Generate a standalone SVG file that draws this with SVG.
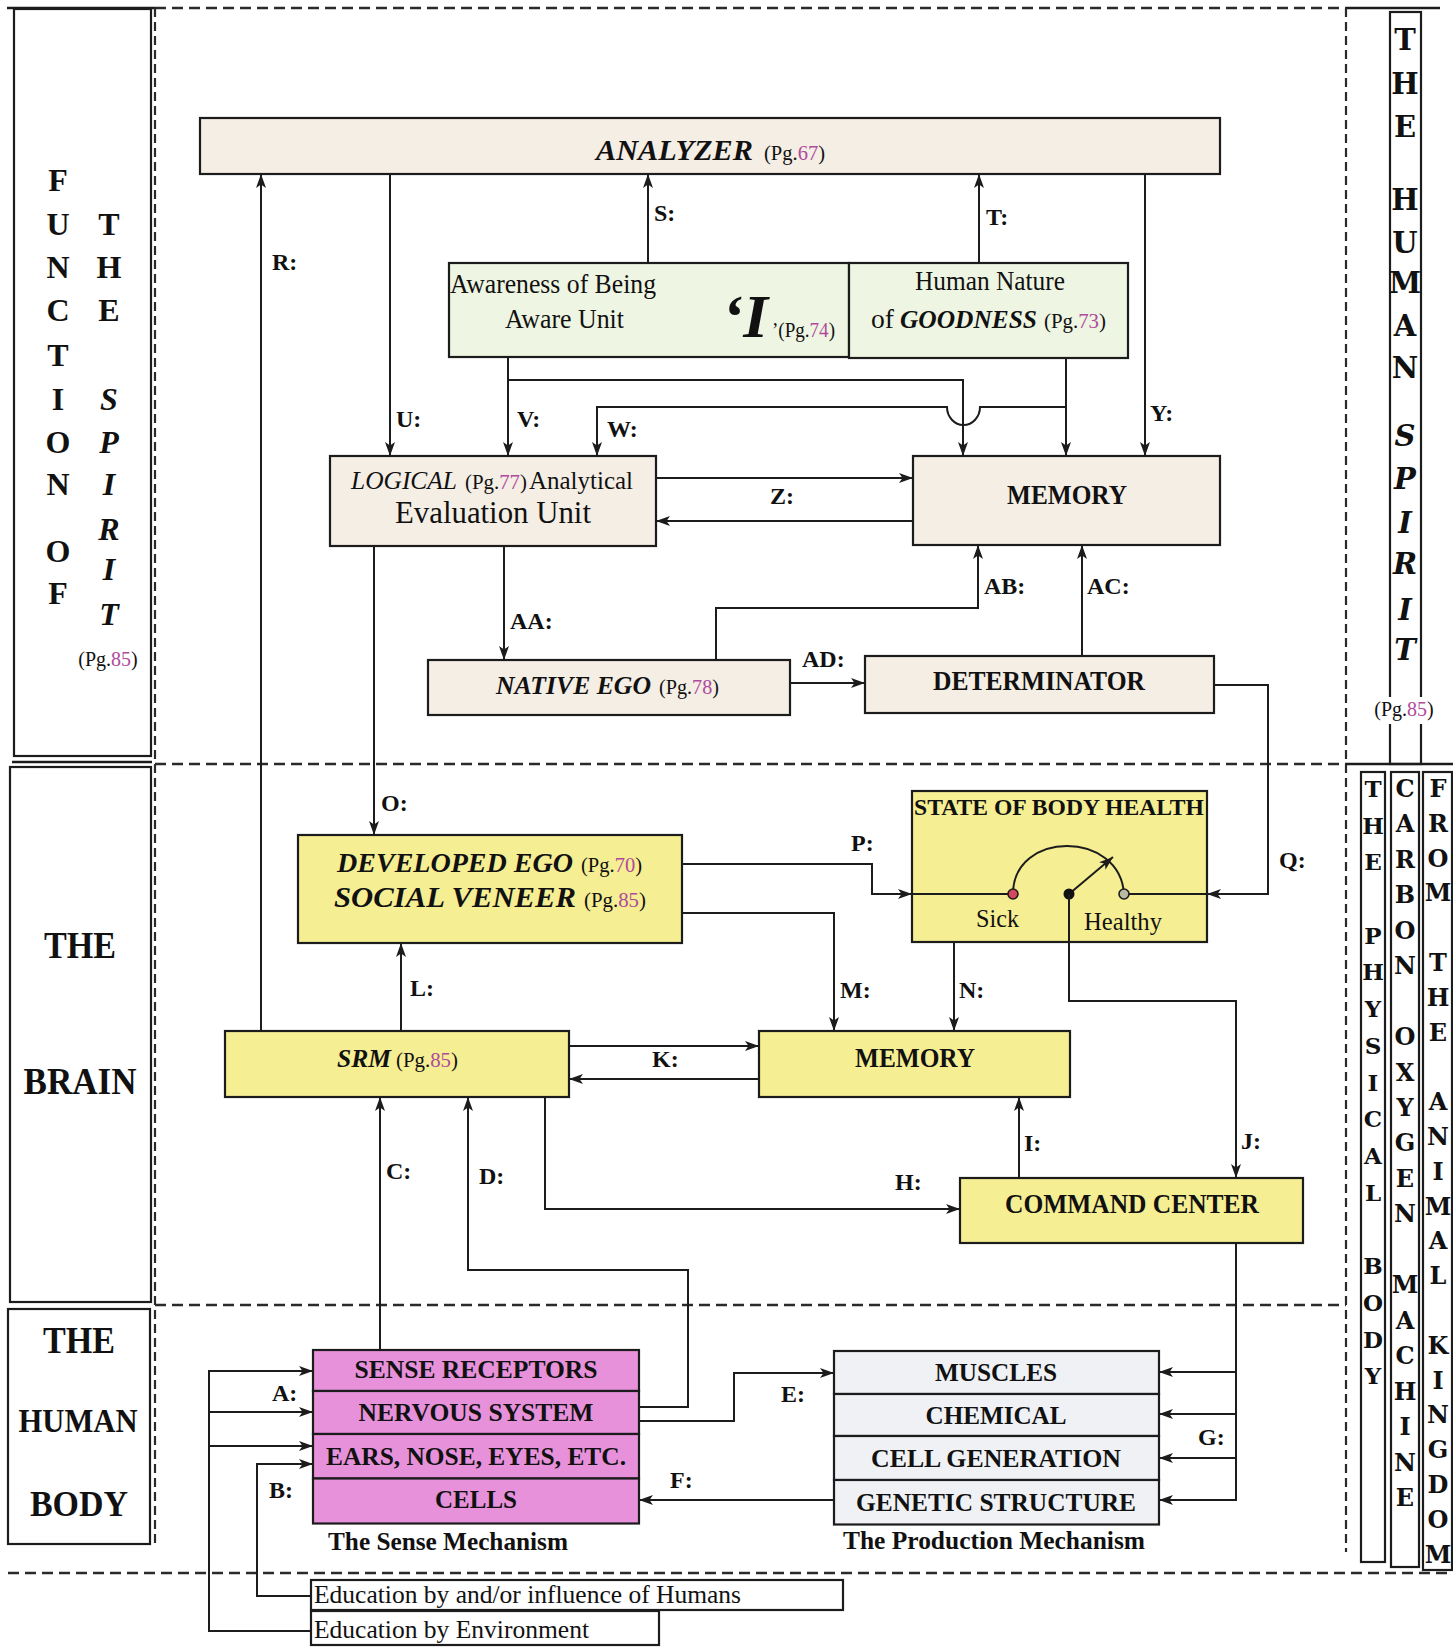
<svg xmlns="http://www.w3.org/2000/svg" width="1453" height="1647" viewBox="0 0 1453 1647">
<defs>
<style>
.bx{stroke:#1c1c1c;stroke-width:2.2}
.beige{fill:#f4eee5}
.green{fill:#eef5e2}
.yel{fill:#f6ee93}
.pink{fill:#e691da}
.grey{fill:#eff1f5}
.wh{fill:#ffffff}
.ln{fill:none;stroke:#1c1c1c;stroke-width:2}
.ar{marker-end:url(#ah)}
.dash{fill:none;stroke:#2a2a2a;stroke-width:2.4;stroke-dasharray:11 6}
.dashv{fill:none;stroke:#2a2a2a;stroke-width:2.2;stroke-dasharray:9 5}
.sol{fill:none;stroke:#1c1c1c;stroke-width:2.4}
.t{font-family:"Liberation Serif","Times New Roman",serif;fill:#111}
.b{font-weight:bold}
.i{font-style:italic}
.lbl{font-family:"Liberation Serif","Times New Roman",serif;font-weight:bold;font-size:24px;fill:#111}
.pg{fill:#b04a9c}
.wide{font-family:"DejaVu Serif",serif;font-weight:bold;fill:#111;text-anchor:middle}
.col{font-family:"Liberation Serif","Times New Roman",serif;font-weight:bold;font-size:32px;fill:#111;text-anchor:middle}
</style>
<marker id="ah" viewBox="0 0 14 10" refX="14" refY="5" markerWidth="14" markerHeight="10" markerUnits="userSpaceOnUse" orient="auto">
<path d="M0,0 L14,5 L0,10 L3.5,5 z" fill="#1c1c1c"/>
</marker>
</defs>
<rect x="0" y="0" width="1453" height="1647" fill="#ffffff"/>

<g id="regions">
<line class="sol" x1="7" y1="8" x2="155" y2="8"/>
<line class="dash" x1="155" y1="8" x2="1346" y2="8"/>
<line class="sol" x1="1346" y1="8" x2="1440" y2="8"/>
<line class="dashv" x1="155" y1="8" x2="155" y2="1546"/>
<line class="dashv" x1="1346" y1="8" x2="1346" y2="1552"/>
<line class="dash" x1="155" y1="764" x2="1346" y2="764"/>
<line class="sol" x1="1346" y1="764" x2="1453" y2="764"/>
<line class="dash" x1="155" y1="1305" x2="1346" y2="1305"/>
<line class="dash" x1="8" y1="1573" x2="1453" y2="1573"/>
<rect class="bx" x="14" y="9" width="137" height="747" fill="none"/>
<line class="sol" x1="12" y1="762" x2="152" y2="762"/>
<rect class="bx" x="10" y="767" width="141" height="535" fill="none"/>
<rect class="bx" x="8" y="1309" width="142" height="235" fill="none"/>
</g>

<g id="panel-spirit">
<text class="col" x="58" y="191">F</text>
<text class="col" x="58" y="235">U</text>
<text class="col" x="58" y="278">N</text>
<text class="col" x="58" y="321">C</text>
<text class="col" x="58" y="366">T</text>
<text class="col" x="58" y="410">I</text>
<text class="col" x="58" y="453">O</text>
<text class="col" x="58" y="495">N</text>
<text class="col" x="58" y="562">O</text>
<text class="col" x="58" y="604">F</text>
<text class="col" x="109" y="235">T</text>
<text class="col" x="109" y="278">H</text>
<text class="col" x="109" y="321">E</text>
<text class="col i" x="109" y="410">S</text>
<text class="col i" x="109" y="453">P</text>
<text class="col i" x="109" y="495">I</text>
<text class="col i" x="109" y="540">R</text>
<text class="col i" x="109" y="580">I</text>
<text class="col i" x="109" y="625">T</text>
<text class="t" x="108" y="666" font-size="20" text-anchor="middle">(Pg.<tspan class="pg">85</tspan>)</text>
</g>

<g id="panel-brain">
<text class="t b" x="80" y="958" font-size="37" text-anchor="middle" textLength="72" lengthAdjust="spacingAndGlyphs">THE</text>
<text class="t b" x="80" y="1094" font-size="37" text-anchor="middle" textLength="113" lengthAdjust="spacingAndGlyphs">BRAIN</text>
</g>

<g id="panel-body">
<text class="t b" x="79" y="1353" font-size="37" text-anchor="middle" textLength="72" lengthAdjust="spacingAndGlyphs">THE</text>
<text class="t b" x="78" y="1432" font-size="34" text-anchor="middle" textLength="119" lengthAdjust="spacingAndGlyphs">HUMAN</text>
<text class="t b" x="79" y="1516" font-size="36" text-anchor="middle" textLength="98" lengthAdjust="spacingAndGlyphs">BODY</text>
</g>

<g id="panel-human-spirit">
<rect class="bx" x="1390" y="12" width="31" height="752" fill="none"/>
<rect x="1370" y="697" width="68" height="27" fill="#ffffff"/>
<text class="wide" x="1405" y="50" font-size="29">T</text>
<text class="wide" x="1405" y="94" font-size="29">H</text>
<text class="wide" x="1405" y="137" font-size="29">E</text>
<text class="wide" x="1405" y="210" font-size="29">H</text>
<text class="wide" x="1405" y="253" font-size="29">U</text>
<text class="wide" x="1405" y="293" font-size="29">M</text>
<text class="wide" x="1405" y="336" font-size="29">A</text>
<text class="wide" x="1405" y="378" font-size="29">N</text>
<text class="wide i" x="1405" y="446" font-size="29">S</text>
<text class="wide i" x="1405" y="489" font-size="29">P</text>
<text class="wide i" x="1405" y="533" font-size="29">I</text>
<text class="wide i" x="1405" y="574" font-size="29">R</text>
<text class="wide i" x="1405" y="620" font-size="29">I</text>
<text class="wide i" x="1405" y="660" font-size="29">T</text>
<text class="t" x="1404" y="716" font-size="20" text-anchor="middle">(Pg.<tspan class="pg">85</tspan>)</text>
</g>

<g id="panel-physical-body">
<rect class="bx" x="1361" y="772" width="24" height="790" fill="none"/>
<text class="wide" x="1373" y="797" font-size="23">T</text>
<text class="wide" x="1373" y="834" font-size="23">H</text>
<text class="wide" x="1373" y="870" font-size="23">E</text>
<text class="wide" x="1373" y="944" font-size="23">P</text>
<text class="wide" x="1373" y="980" font-size="23">H</text>
<text class="wide" x="1373" y="1017" font-size="23">Y</text>
<text class="wide" x="1373" y="1054" font-size="23">S</text>
<text class="wide" x="1373" y="1091" font-size="23">I</text>
<text class="wide" x="1373" y="1127" font-size="23">C</text>
<text class="wide" x="1373" y="1164" font-size="23">A</text>
<text class="wide" x="1373" y="1201" font-size="23">L</text>
<text class="wide" x="1373" y="1274" font-size="23">B</text>
<text class="wide" x="1373" y="1311" font-size="23">O</text>
<text class="wide" x="1373" y="1348" font-size="23">D</text>
<text class="wide" x="1373" y="1384" font-size="23">Y</text>
</g>

<g id="panel-carbon-oxygen">
<rect class="bx" x="1391" y="772" width="28" height="795" fill="none"/>
<text class="wide" x="1405" y="797" font-size="24">C</text>
<text class="wide" x="1405" y="832" font-size="24">A</text>
<text class="wide" x="1405" y="868" font-size="24">R</text>
<text class="wide" x="1405" y="903" font-size="24">B</text>
<text class="wide" x="1405" y="939" font-size="24">O</text>
<text class="wide" x="1405" y="974" font-size="24">N</text>
<text class="wide" x="1405" y="1045" font-size="24">O</text>
<text class="wide" x="1405" y="1081" font-size="24">X</text>
<text class="wide" x="1405" y="1116" font-size="24">Y</text>
<text class="wide" x="1405" y="1151" font-size="24">G</text>
<text class="wide" x="1405" y="1187" font-size="24">E</text>
<text class="wide" x="1405" y="1222" font-size="24">N</text>
<text class="wide" x="1405" y="1293" font-size="24">M</text>
<text class="wide" x="1405" y="1329" font-size="24">A</text>
<text class="wide" x="1405" y="1364" font-size="24">C</text>
<text class="wide" x="1405" y="1400" font-size="24">H</text>
<text class="wide" x="1405" y="1435" font-size="24">I</text>
<text class="wide" x="1405" y="1471" font-size="24">N</text>
<text class="wide" x="1405" y="1506" font-size="24">E</text>
</g>

<g id="panel-animal-kingdom">
<rect class="bx" x="1423" y="772" width="29" height="798" fill="none"/>
<text class="wide" x="1438" y="797" font-size="24">F</text>
<text class="wide" x="1438" y="832" font-size="24">R</text>
<text class="wide" x="1438" y="867" font-size="24">O</text>
<text class="wide" x="1438" y="901" font-size="24">M</text>
<text class="wide" x="1438" y="971" font-size="24">T</text>
<text class="wide" x="1438" y="1006" font-size="24">H</text>
<text class="wide" x="1438" y="1041" font-size="24">E</text>
<text class="wide" x="1438" y="1110" font-size="24">A</text>
<text class="wide" x="1438" y="1145" font-size="24">N</text>
<text class="wide" x="1438" y="1180" font-size="24">I</text>
<text class="wide" x="1438" y="1215" font-size="24">M</text>
<text class="wide" x="1438" y="1249" font-size="24">A</text>
<text class="wide" x="1438" y="1284" font-size="24">L</text>
<text class="wide" x="1438" y="1354" font-size="24">K</text>
<text class="wide" x="1438" y="1389" font-size="24">I</text>
<text class="wide" x="1438" y="1423" font-size="24">N</text>
<text class="wide" x="1438" y="1458" font-size="24">G</text>
<text class="wide" x="1438" y="1493" font-size="24">D</text>
<text class="wide" x="1438" y="1528" font-size="24">O</text>
<text class="wide" x="1438" y="1563" font-size="24">M</text>
</g>

<g id="analyzer">
<rect class="bx beige" x="200" y="118" width="1020" height="56"/>
<text class="t b i" x="596" y="160" font-size="30" textLength="157" lengthAdjust="spacingAndGlyphs">ANALYZER</text>
<text class="t" x="764" y="160" font-size="20" textLength="61" lengthAdjust="spacingAndGlyphs">(Pg.<tspan class="pg">67</tspan>)</text>
</g>

<g id="awareness">
<rect class="bx green" x="449" y="263" width="400" height="94"/>
<text class="t" x="450" y="293" font-size="27" textLength="206" lengthAdjust="spacingAndGlyphs">Awareness of Being</text>
<text class="t" x="505" y="328" font-size="27" textLength="119" lengthAdjust="spacingAndGlyphs">Aware Unit</text>
<text class="t b i" x="722" y="337" font-size="62" textLength="46" lengthAdjust="spacingAndGlyphs">‘I</text>
<text class="t" x="772" y="337" font-size="20" textLength="63" lengthAdjust="spacingAndGlyphs">’(Pg.<tspan class="pg">74</tspan>)</text>
</g>

<g id="human-nature">
<rect class="bx green" x="849" y="263" width="279" height="95"/>
<text class="t" x="990" y="290" font-size="27" text-anchor="middle" textLength="150" lengthAdjust="spacingAndGlyphs">Human Nature</text>
<text class="t" x="871" y="328" font-size="27" textLength="23" lengthAdjust="spacingAndGlyphs">of</text>
<text class="t b i" x="900" y="328" font-size="25" textLength="137" lengthAdjust="spacingAndGlyphs">GOODNESS</text>
<text class="t" x="1044" y="328" font-size="20" textLength="62" lengthAdjust="spacingAndGlyphs">(Pg.<tspan class="pg">73</tspan>)</text>
</g>

<g id="logical">
<rect class="bx beige" x="330" y="456" width="326" height="90"/>
<text class="t i" x="351" y="489" font-size="25" textLength="106" lengthAdjust="spacingAndGlyphs">LOGICAL</text>
<text class="t" x="465" y="489" font-size="20" textLength="62" lengthAdjust="spacingAndGlyphs">(Pg.<tspan class="pg">77</tspan>)</text>
<text class="t" x="529" y="489" font-size="25" textLength="104" lengthAdjust="spacingAndGlyphs">Analytical</text>
<text class="t" x="493" y="523" font-size="31" text-anchor="middle" textLength="196" lengthAdjust="spacingAndGlyphs">Evaluation Unit</text>
</g>

<g id="memory-top">
<rect class="bx beige" x="913" y="456" width="307" height="89"/>
<text class="t b" x="1067" y="504" font-size="27" text-anchor="middle" textLength="120" lengthAdjust="spacingAndGlyphs">MEMORY</text>
</g>

<g id="native-ego">
<rect class="bx beige" x="428" y="660" width="362" height="55"/>
<text class="t b i" x="496" y="694" font-size="25" textLength="155" lengthAdjust="spacingAndGlyphs">NATIVE EGO</text>
<text class="t" x="659" y="694" font-size="20" textLength="60" lengthAdjust="spacingAndGlyphs">(Pg.<tspan class="pg">78</tspan>)</text>
</g>

<g id="determinator">
<rect class="bx beige" x="865" y="656" width="349" height="57"/>
<text class="t b" x="1039" y="690" font-size="27" text-anchor="middle" textLength="212" lengthAdjust="spacingAndGlyphs">DETERMINATOR</text>
</g>

<g id="state-of-body-health">
<rect class="bx yel" x="912" y="791" width="295" height="151"/>
<text class="t b" x="914" y="815" font-size="23" textLength="290" lengthAdjust="spacingAndGlyphs">STATE OF BODY HEALTH</text>
<path class="ln" d="M912,894 H1008"/>
<path class="ln" d="M1129,894 H1207"/>
<path class="ln" d="M1013,894 C1013,830 1120,830 1124,894"/>
<path class="ln ar" d="M1069,894 L1113,857"/>
<circle cx="1013" cy="894" r="5" fill="#d2485c" stroke="#1c1c1c" stroke-width="1.6"/>
<circle cx="1124" cy="894" r="5" fill="#b9b9a3" stroke="#1c1c1c" stroke-width="1.6"/>
<circle cx="1069" cy="894" r="5.5" fill="#111"/>
<text class="t" x="976" y="927" font-size="25" textLength="43" lengthAdjust="spacingAndGlyphs">Sick</text>
<text class="t" x="1084" y="930" font-size="25" textLength="78" lengthAdjust="spacingAndGlyphs">Healthy</text>
</g>

<g id="developed-ego">
<rect class="bx yel" x="298" y="835" width="384" height="108"/>
<text class="t b i" x="337" y="872" font-size="28" textLength="236" lengthAdjust="spacingAndGlyphs">DEVELOPED EGO</text>
<text class="t" x="581" y="872" font-size="20" textLength="61" lengthAdjust="spacingAndGlyphs">(Pg.<tspan class="pg">70</tspan>)</text>
<text class="t b i" x="334" y="907" font-size="30" textLength="242" lengthAdjust="spacingAndGlyphs">SOCIAL VENEER</text>
<text class="t" x="584" y="907" font-size="20" textLength="62" lengthAdjust="spacingAndGlyphs">(Pg.<tspan class="pg">85</tspan>)</text>
</g>

<g id="srm">
<rect class="bx yel" x="225" y="1031" width="344" height="66"/>
<text class="t b i" x="337" y="1067" font-size="25" textLength="54" lengthAdjust="spacingAndGlyphs">SRM</text>
<text class="t" x="396" y="1067" font-size="20" textLength="62" lengthAdjust="spacingAndGlyphs">(Pg.<tspan class="pg">85</tspan>)</text>
</g>

<g id="memory-bottom">
<rect class="bx yel" x="759" y="1031" width="311" height="66"/>
<text class="t b" x="915" y="1067" font-size="27" text-anchor="middle" textLength="120" lengthAdjust="spacingAndGlyphs">MEMORY</text>
</g>

<g id="command-center">
<rect class="bx yel" x="960" y="1178" width="343" height="65"/>
<text class="t b" x="1132" y="1213" font-size="27" text-anchor="middle" textLength="254" lengthAdjust="spacingAndGlyphs">COMMAND CENTER</text>
</g>

<g id="sense-mechanism">
<rect class="bx pink" x="313" y="1350" width="326" height="41"/>
<rect class="bx pink" x="313" y="1391" width="326" height="43"/>
<rect class="bx pink" x="313" y="1434" width="326" height="44.5"/>
<rect class="bx pink" x="313" y="1478.5" width="326" height="45"/>
<text class="t b" x="476" y="1378" font-size="26" text-anchor="middle" textLength="243" lengthAdjust="spacingAndGlyphs">SENSE RECEPTORS</text>
<text class="t b" x="476" y="1421" font-size="26" text-anchor="middle" textLength="235" lengthAdjust="spacingAndGlyphs">NERVOUS SYSTEM</text>
<text class="t b" x="476" y="1465" font-size="26" text-anchor="middle" textLength="300" lengthAdjust="spacingAndGlyphs">EARS, NOSE, EYES, ETC.</text>
<text class="t b" x="476" y="1508" font-size="26" text-anchor="middle" textLength="82" lengthAdjust="spacingAndGlyphs">CELLS</text>
<text class="t b" x="328" y="1550" font-size="25" textLength="240" lengthAdjust="spacingAndGlyphs">The Sense Mechanism</text>
</g>

<g id="production-mechanism">
<rect class="bx grey" x="834" y="1351" width="325" height="43"/>
<rect class="bx grey" x="834" y="1394" width="325" height="42"/>
<rect class="bx grey" x="834" y="1436" width="325" height="44"/>
<rect class="bx grey" x="834" y="1480" width="325" height="44.5"/>
<text class="t b" x="996" y="1381" font-size="26" text-anchor="middle" textLength="122" lengthAdjust="spacingAndGlyphs">MUSCLES</text>
<text class="t b" x="996" y="1424" font-size="26" text-anchor="middle" textLength="141" lengthAdjust="spacingAndGlyphs">CHEMICAL</text>
<text class="t b" x="996" y="1467" font-size="26" text-anchor="middle" textLength="250" lengthAdjust="spacingAndGlyphs">CELL GENERATION</text>
<text class="t b" x="996" y="1511" font-size="26" text-anchor="middle" textLength="280" lengthAdjust="spacingAndGlyphs">GENETIC STRUCTURE</text>
<text class="t b" x="843" y="1549" font-size="25" textLength="302" lengthAdjust="spacingAndGlyphs">The Production Mechanism</text>
</g>

<g id="education-humans">
<rect class="bx wh" x="311" y="1580" width="532" height="30"/>
<text class="t" x="314" y="1603" font-size="26" textLength="427" lengthAdjust="spacingAndGlyphs">Education by and/or influence of Humans</text>
</g>

<g id="education-environment">
<rect class="bx wh" x="311" y="1611" width="348" height="34"/>
<text class="t" x="314" y="1638" font-size="26" textLength="275" lengthAdjust="spacingAndGlyphs">Education by Environment</text>
</g>

<g id="connectors">
<path class="ln ar" d="M648,263 V174"/>
<path class="ln ar" d="M979,263 V174"/>
<path class="ln ar" d="M261,1031 V174"/>
<path class="ln ar" d="M390,174 V456"/>
<path class="ln ar" d="M508,357 V456"/>
<path class="ln ar" d="M508,380 H963 V456"/>
<path class="ln ar" d="M1066,358 V456"/>
<path class="ln ar" d="M1066,407 H980 A16.5,18 0 0 1 947,407 H597 V456"/>
<path class="ln ar" d="M1145,174 V456"/>
<path class="ln ar" d="M656,478 H913"/>
<path class="ln ar" d="M913,521 H656"/>
<path class="ln ar" d="M504,546 V660"/>
<path class="ln ar" d="M374,546 V835"/>
<path class="ln ar" d="M716,660 V608 H978 V545"/>
<path class="ln ar" d="M1082,656 V545"/>
<path class="ln ar" d="M790,683 H865"/>
<path class="ln ar" d="M1214,685 H1268 V894 H1207"/>
<path class="ln ar" d="M683,864 H872 V894 H912"/>
<path class="ln ar" d="M683,913 H834 V1031"/>
<path class="ln ar" d="M954,942 V1031"/>
<path class="ln ar" d="M401,1031 V943"/>
<path class="ln ar" d="M569,1046 H759"/>
<path class="ln ar" d="M759,1079 H569"/>
<path class="ln ar" d="M380,1350 V1097"/>
<path class="ln ar" d="M639,1407 H688 V1270 H468 V1097"/>
<path class="ln ar" d="M545,1097 V1209 H960"/>
<path class="ln ar" d="M1019,1178 V1097"/>
<path class="ln ar" d="M1069,894 V1001 H1236 V1178"/>
<path class="ln ar" d="M1236,1243 V1500 H1159"/>
<path class="ln ar" d="M1236,1372 H1159"/>
<path class="ln ar" d="M1236,1414 H1159"/>
<path class="ln ar" d="M1236,1458 H1159"/>
<path class="ln ar" d="M639,1421 H734 V1373 H834"/>
<path class="ln ar" d="M834,1500 H639"/>
<path class="ln ar" d="M311,1631 H209 V1371 H313"/>
<path class="ln ar" d="M209,1412 H313"/>
<path class="ln ar" d="M209,1446 H313"/>
<path class="ln ar" d="M311,1596 H257 V1464 H313"/>
</g>

<g id="labels">
<text class="lbl" x="654" y="221">S:</text>
<text class="lbl" x="986" y="225">T:</text>
<text class="lbl" x="272" y="270">R:</text>
<text class="lbl" x="396" y="427">U:</text>
<text class="lbl" x="517" y="427">V:</text>
<text class="lbl" x="607" y="437">W:</text>
<text class="lbl" x="1150" y="421">Y:</text>
<text class="lbl" x="770" y="504">Z:</text>
<text class="lbl" x="510" y="629">AA:</text>
<text class="lbl" x="984" y="594">AB:</text>
<text class="lbl" x="1087" y="594">AC:</text>
<text class="lbl" x="802" y="667">AD:</text>
<text class="lbl" x="381" y="811">O:</text>
<text class="lbl" x="851" y="851">P:</text>
<text class="lbl" x="1279" y="868">Q:</text>
<text class="lbl" x="410" y="996">L:</text>
<text class="lbl" x="840" y="998">M:</text>
<text class="lbl" x="959" y="998">N:</text>
<text class="lbl" x="652" y="1067">K:</text>
<text class="lbl" x="386" y="1179">C:</text>
<text class="lbl" x="479" y="1184">D:</text>
<text class="lbl" x="895" y="1190">H:</text>
<text class="lbl" x="1024" y="1151">I:</text>
<text class="lbl" x="1241" y="1149">J:</text>
<text class="lbl" x="272" y="1401">A:</text>
<text class="lbl" x="269" y="1498">B:</text>
<text class="lbl" x="781" y="1402">E:</text>
<text class="lbl" x="670" y="1488">F:</text>
<text class="lbl" x="1198" y="1445">G:</text>
</g>
</svg>
